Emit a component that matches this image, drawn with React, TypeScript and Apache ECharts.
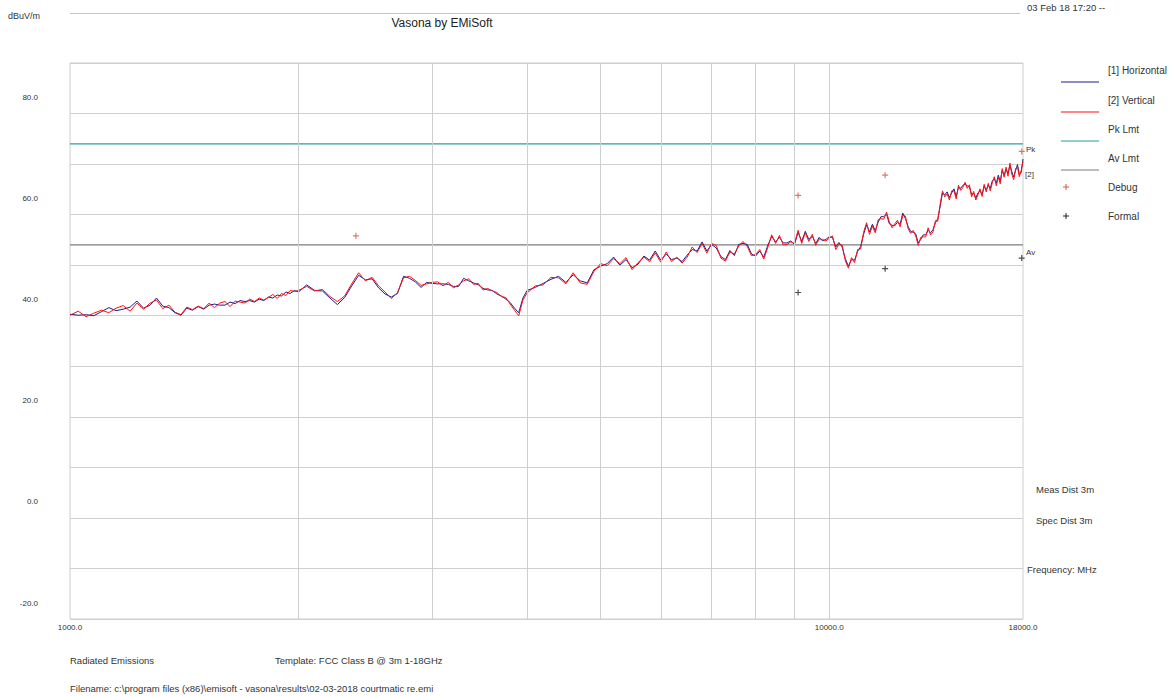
import React, { useEffect, useRef } from "react";
import * as echarts from "echarts";

const freqs = [
  1000,1025,1050,1075,1100,1125,1150,1175,1200,1225,1250,1275,1300,1325,1350,1375,1400,1425,1450,1475,1500,1525,1550,1575,1600,1625,1650,1675,1700,1725,1750,1775,1800,1825,1850,1875,1900,1925,1950,1975,2000,
  2050,2100,2150,2200,2250,2300,2350,2400,2450,2500,2550,2600,2650,2700,2750,2800,2850,2900,2950,3000,3050,3100,3150,3200,3250,3300,3350,3400,3450,3500,3550,3600,3650,3700,3750,3800,3850,3900,3950,4000,
  4100,4200,4300,4400,4500,4600,4700,4800,4900,5000,5100,5200,5300,5400,5500,5600,5700,5800,5900,6000,6100,6200,6300,6400,6500,6600,6700,6800,6900,7000,7100,7200,7300,7400,7500,7600,7700,7800,7900,8000,8100,8200,8300,8400,8500,8600,8700,8800,8900,9000,9100,9200,9300,9400,9500,9600,9700,9800,9900,10000,
  10100,10200,10300,10400,10500,10600,10700,10800,10900,11000,11100,11200,11300,11400,11500,11600,11700,11800,11900,12000,12100,12200,12300,12400,12500,12600,12700,12800,12900,13000,13100,13200,13300,13400,13500,13600,13700,13800,13900,14000,14100,14200,14300,14400,14500,14600,14700,14800,14900,15000,15100,15200,15300,15400,15500,15600,15700,15800,15900,16000,16100,16200,16300,16400,16500,16600,16700,16800,16900,17000,17100,17200,17300,17400,17500,17600,17700,17800,17900,18000,
];

const horizontal = [
  40.3,40.1,40.2,40.0,40.8,41.6,41.0,41.3,41.7,42.9,41.5,42.1,43.5,41.9,41.6,40.6,40.1,41.5,41.1,41.8,41.3,42.1,42.3,42.1,42.1,42.7,42.4,43.0,42.8,43.0,42.7,43.3,43.0,43.7,43.5,44.1,43.9,44.7,44.4,45.0,44.7,
  46.1,45.0,44.9,43.5,42.2,43.6,45.9,48.0,47.1,47.3,45.5,44.3,43.7,44.4,47.8,47.4,46.7,45.6,46.6,46.4,46.3,46.3,46.2,45.8,45.8,47.4,46.9,46.5,46.1,45.4,45.1,45.0,44.3,43.9,43.3,42.6,41.5,40.6,43.5,45.0,
  45.6,46.4,47.2,47.8,46.6,48.1,46.9,46.5,49.1,49.8,50.3,51.6,50.0,51.1,49.5,50.2,51.8,51.0,52.8,51.0,52.2,51.1,51.4,50.7,52.0,53.1,52.8,54.6,52.8,54.1,53.4,51.7,51.1,52.9,51.9,54.1,54.3,54.1,52.2,51.8,52.8,51.6,53.9,55.7,54.6,55.5,54.4,54.4,54.8,54.1,56.5,54.7,56.7,55.1,55.7,54.3,55.5,54.8,55.1,55.6,
  55.5,53.6,54.5,53.6,51.3,49.8,51.1,51.0,52.7,53.7,56.1,58.0,56.6,58.1,56.8,58.5,59.6,59.6,60.1,58.2,57.9,57.8,58.5,58.1,60.3,59.2,57.7,56.7,56.5,56.2,54.4,55.1,56.0,56.0,56.9,56.4,57.0,58.4,59.2,61.6,64.3,63.9,64.5,63.4,64.3,65.1,63.6,65.4,65.2,65.8,66.0,65.7,65.5,64.0,64.2,63.3,64.3,64.7,64.0,65.6,64.9,65.8,65.2,66.7,67.1,66.2,67.8,66.6,68.7,67.8,69.0,68.1,69.8,68.5,67.4,68.7,69.9,68.0,68.3,71.0,
];

const vertical = [
  40.1,40.9,39.8,40.5,41.1,40.6,41.5,42.0,40.9,42.5,41.3,42.5,43.1,41.4,42.1,40.7,40.2,41.7,41.2,41.9,41.4,42.5,41.6,42.5,42.8,41.8,42.9,42.7,42.5,43.3,42.8,43.5,43.1,43.6,44.2,43.4,44.4,44.0,45.0,44.8,45.0,
  45.8,44.9,45.2,43.8,42.8,43.9,46.3,48.5,46.9,47.6,45.9,44.7,43.4,44.6,47.5,47.8,47.0,46.0,46.3,46.6,46.7,45.9,46.6,45.5,46.1,46.9,47.3,46.2,46.4,45.1,45.4,44.9,44.6,43.8,43.6,42.3,41.1,40.0,43.1,44.5,
  45.9,46.1,47.6,47.5,46.3,48.5,46.5,46.2,48.8,50.3,49.9,51.3,50.3,51.5,49.1,50.5,51.6,50.7,52.4,50.6,52.6,50.7,51.6,50.4,51.6,53.6,52.5,54.3,52.4,54.3,53.9,51.4,50.8,52.6,52.2,53.8,54.7,53.7,51.9,52.1,53.1,51.2,53.5,56.0,54.3,55.9,54.0,54.1,54.6,54.3,56.9,54.3,56.4,54.7,56.1,53.9,55.2,55.1,54.8,55.3,
  55.8,53.1,54.1,54.0,50.9,49.4,51.5,50.5,53.1,53.2,56.5,58.4,56.1,57.7,56.4,59.0,59.2,59.1,60.5,58.6,57.4,58.2,58.9,57.6,59.9,59.7,57.3,56.3,56.9,55.8,53.9,55.5,55.6,55.6,57.4,56.0,56.6,58.8,58.7,62.0,64.7,63.5,64.1,62.9,64.7,64.7,63.1,65.8,64.8,65.4,66.4,65.2,65.9,63.5,64.6,62.9,63.9,65.1,63.6,66.0,64.5,66.2,64.7,66.3,67.5,65.7,67.4,66.1,69.1,67.4,69.4,67.6,70.2,68.0,66.9,69.1,69.5,67.5,68.7,70.5,
];

const pkLimit = 74;
const avLimit = 54;
const freqRange = [1000, 18000];

const debugFreqs = [2380, 9100, 11850, 17930];
const debugValues = [55.8, 63.8, 67.8, 72.5];
const formalFreqs = [9100, 11850, 17930];
const formalValues = [44.6, 49.3, 51.4];

const gridFreqs = [2000, 3000, 4000, 5000, 6000, 7000, 8000, 9000, 10000];

const legendNames = ["[1] Horizontal", "[2] Vertical", "Pk Lmt", "Av Lmt", "Debug", "Formal"];

const FONT = '"Liberation Sans", Arial, sans-serif';
const BLUE = "#1c1c8f";
const RED = "#ff1010";
const TEAL = "#2f9e9e";
const GREY = "#7d7d7d";
const GRID = "#cfcfcf";
const DEBUG = "#d9573a";
const PLUS = "path://M2,0L3,0L3,2L5,2L5,3L3,3L3,5L2,5L2,3L0,3L0,2L2,2Z";

function txt(text: string, x: number, y: number, size: number, align = "left", color = "#333") {
  return {
    type: "text",
    x,
    y,
    silent: true,
    style: { text, fill: color, font: `${size}px ${FONT}`, align, verticalAlign: "middle" },
  };
}

export default function App() {
  const ref = useRef<HTMLDivElement>(null);

  useEffect(() => {
    if (!ref.current) return;
    const chart = echarts.init(ref.current, undefined, { renderer: "svg" });

    const legendLineColors = [BLUE, RED, TEAL, GREY];
    const legendY = [70, 100, 129, 158, 187, 216];
    const graphics: any[] = [];
    legendNames.forEach((n, i) => graphics.push(txt(n, 1108, legendY[i], 10)));
    legendLineColors.forEach((c, i) =>
      graphics.push({
        type: "line",
        silent: true,
        shape: { x1: 1061, y1: legendY[i] + 12, x2: 1099, y2: legendY[i] + 12 },
        style: { stroke: c, lineWidth: 1.2 },
      })
    );
    [[DEBUG, 187], ["#222", 216]].forEach(([c, y]: any) => {
      graphics.push({ type: "line", silent: true, shape: { x1: 1063, y1: y, x2: 1069, y2: y }, style: { stroke: c, lineWidth: 1 } });
      graphics.push({ type: "line", silent: true, shape: { x1: 1066, y1: y - 3, x2: 1066, y2: y + 3 }, style: { stroke: c, lineWidth: 1 } });
    });
    graphics.push({
      type: "line",
      silent: true,
      shape: { x1: 70, y1: 13.5, x2: 1020, y2: 13.5 },
      style: { stroke: "#c4c4c4", lineWidth: 1.2 },
    });
    graphics.push(txt("dBuV/m", 8, 16, 9));
    graphics.push(txt("Vasona by EMiSoft", 442, 23, 12, "center", "#222"));
    graphics.push(txt("03 Feb 18 17:20 --", 1027, 7, 9.5));
    graphics.push(txt("Pk", 1026, 149, 8));
    graphics.push(txt("[2]", 1025, 174, 8));
    graphics.push(txt("Av", 1026, 252, 8));
    graphics.push(txt("Meas Dist 3m", 1036, 489, 9.5));
    graphics.push(txt("Spec Dist 3m", 1036, 520, 9.5));
    graphics.push(txt("Frequency: MHz", 1027, 569, 9.5));
    graphics.push(txt("Radiated Emissions", 70, 660, 9.5));
    graphics.push(txt("Template: FCC Class B @ 3m 1-18GHz", 275, 660, 9.5));
    graphics.push(
      txt("Filename: c:\\program files (x86)\\emisoft - vasona\\results\\02-03-2018 courtmatic re.emi", 70, 688, 9.5)
    );

    chart.setOption({
      animation: false,
      backgroundColor: "#ffffff",
      textStyle: { fontFamily: FONT },
      grid: {
        left: 70,
        right: 152,
        top: 63,
        bottom: 77,
        show: true,
        borderColor: GRID,
        borderWidth: 1,
      },
      xAxis: {
        type: "log",
        logBase: 10,
        min: freqRange[0],
        max: freqRange[1],
        splitLine: { show: false },
        axisLine: { show: false },
        axisTick: { show: false },
        axisLabel: {
          fontSize: 8,
          color: "#333",
          margin: 4,
          showMinLabel: true,
          showMaxLabel: true,
          hideOverlap: false,
          formatter: (v: number) => Number(v).toFixed(1),
        },
      },
      yAxis: {
        type: "value",
        min: -20,
        max: 90,
        interval: 10,
        splitLine: { show: true, lineStyle: { color: GRID, width: 1 } },
        axisLine: { show: false },
        axisTick: { show: false },
        axisLabel: {
          fontSize: 8,
          color: "#333",
          margin: 32,
          verticalAlign: "bottom",
          lineHeight: 32,
          formatter: (v: number) => (Math.round(v) % 20 === 0 ? Number(v).toFixed(1) : ""),
        },
      },
      graphic: graphics,
      series: [
        {
          name: "grid",
          type: "line",
          data: [],
          z: 1,
          silent: true,
          markLine: {
            silent: true,
            symbol: ["none", "none"],
            label: { show: false },
            lineStyle: { color: GRID, type: "solid", width: 1 },
            data: gridFreqs.map((f) => ({ xAxis: f })),
          },
        },
        {
          name: "Pk Lmt",
          type: "line",
          data: freqRange.map((f) => [f, pkLimit]),
          symbol: "none",
          z: 2,
          lineStyle: { color: TEAL, width: 1.2 },
        },
        {
          name: "Av Lmt",
          type: "line",
          data: freqRange.map((f) => [f, avLimit]),
          symbol: "none",
          z: 2,
          lineStyle: { color: GREY, width: 1.2 },
        },
        {
          name: "[1] Horizontal",
          type: "line",
          data: freqs.map((f, i) => [f, horizontal[i]]),
          symbol: "none",
          z: 3,
          lineStyle: { color: BLUE, width: 1 },
        },
        {
          name: "[2] Vertical",
          type: "line",
          data: freqs.map((f, i) => [f, vertical[i]]),
          symbol: "none",
          z: 4,
          lineStyle: { color: RED, width: 1 },
        },
        {
          name: "Debug",
          type: "scatter",
          data: debugFreqs.map((f, i) => [f, debugValues[i]]),
          symbol: PLUS,
          symbolSize: 6,
          z: 5,
          itemStyle: { color: DEBUG },
        },
        {
          name: "Formal",
          type: "scatter",
          data: formalFreqs.map((f, i) => [f, formalValues[i]]),
          symbol: PLUS,
          symbolSize: 6,
          z: 5,
          itemStyle: { color: "#222" },
        },
      ],
    });

    return () => chart.dispose();
  }, []);

  return (
    <div
      ref={ref}
      style={{ position: "fixed", left: 0, top: 0, width: 1175, height: 696, overflow: "hidden", background: "#fff" }}
    />
  );
}
